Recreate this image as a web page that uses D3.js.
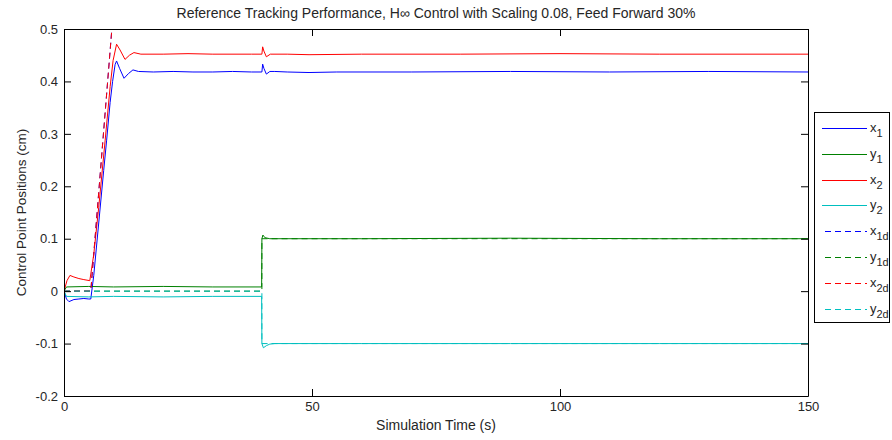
<!DOCTYPE html>
<html>
<head>
<meta charset="utf-8">
<script src="https://cdn.jsdelivr.net/npm/d3@7"></script>
<style>
	body { margin: 0; background: #fff; }
	text { font-family: "Liberation Sans", Arial, sans-serif; fill: #262626; }
</style>
</head>
<body>
<svg id="chart"></svg>
<script>
// data, [time, position]
var x1 = [[0,0],[0.5,-0.015],[1,-0.02],[2,-0.016],[3,-0.015],[4,-0.014],[5,-0.015],[5.4,-0.015],[6,0.03],[7,0.13],[8,0.23],[8.6,0.288],[9.3,0.36],[9.8,0.40],[10.3,0.432],[10.6,0.439],[11.2,0.425],[12.1,0.406],[13,0.415],[13.9,0.422],[15,0.419],[18,0.418],[22,0.419],[26,0.418],[30,0.418],[34,0.419],[37.8,0.418],[39.9,0.418],[40.05,0.433],[40.3,0.425],[40.8,0.414],[41.5,0.419],[42.5,0.419],[45,0.418],[49.4,0.417],[55,0.418],[70,0.418],[90,0.419],[110,0.418],[130,0.419],[150,0.418]]
var y1 = [[0,0],[0.5,0.008],[5,0.009],[10,0.008],[20,0.009],[30,0.008],[39.85,0.008],[39.9,0.1],[40.1,0.107],[40.5,0.102],[41.5,0.1],[60,0.1],[90,0.101],[120,0.1],[150,0.1]]
var x2 = [[0,0],[0.6,0.02],[1.2,0.03],[2,0.027],[3,0.024],[4,0.022],[5.2,0.02],[6,0.07],[7,0.16],[8.3,0.288],[9.3,0.39],[9.9,0.44],[10.6,0.471],[11.3,0.46],[12.3,0.442],[13.2,0.45],[14.1,0.455],[15.5,0.452],[20,0.452],[25,0.453],[30,0.452],[37.8,0.452],[39.9,0.452],[40.05,0.466],[40.3,0.458],[40.8,0.447],[41.6,0.452],[45,0.452],[49.4,0.451],[60,0.452],[80,0.452],[100,0.453],[120,0.452],[150,0.452]]
var y2 = [[0,0],[0.5,-0.01],[5,-0.011],[10,-0.01],[20,-0.011],[30,-0.01],[39.85,-0.01],[39.9,-0.1],[40.2,-0.108],[40.8,-0.104],[41.5,-0.101],[42.5,-0.1],[60,-0.1],[90,-0.1],[120,-0.1],[150,-0.1]]
var x1d = [[0,0],[5.4,0],[10.5,0.6],[150,0.6]]
var y1d = [[0,0],[39.9,0],[39.9,0.1],[150,0.1]]
var x2d = [[0,0],[5.4,0],[10.5,0.6],[150,0.6]]
var y2d = [[0,0],[39.9,0],[39.9,-0.1],[150,-0.1]]

var seriesNames = [["x","1"],["y","1"],["x","2"],["y","2"],["x","1d"],["y","1d"],["x","2d"],["y","2d"]]
var seriesData = [x1, y1, x2, y2, x1d, y1d, x2d, y2d]
var seriesColors = ["#0000ff", "#008000", "#ff0000", "#00bfbf", "#0000ff", "#008000", "#ff0000", "#00bfbf"]
var seriesDashed = [false, false, false, false, true, true, true, true]

var xTicks = [0, 50, 100, 150]
var xTickLabels = ["0", "50", "100", "150"]
var yTicks = [-0.2, -0.1, 0, 0.1, 0.2, 0.3, 0.4, 0.5]
var yTickLabels = ["-0.2", "-0.1", "0", "0.1", "0.2", "0.3", "0.4", "0.5"]

var width = 892
var height = 440
var margin = ({top: 29, right: 84, bottom: 44, left: 64})

var svg = d3.select("#chart")
	.attr("width", width)
	.attr("height", height)

var x = d3.scaleLinear()
	.domain([0, 150])
	.range([margin.left, width - margin.right])

var y = d3.scaleLinear()
	.domain([-0.2, 0.5])
	.range([height - margin.bottom, margin.top])

svg.append("defs").append("clipPath")
	.attr("id", "plotclip")
	.append("rect")
	.attr("x", x(0))
	.attr("y", y(0.5))
	.attr("width", x(150) - x(0))
	.attr("height", y(-0.2) - y(0.5))

var lineFunction = d3.line()
	.x(d => x(d[0]))
	.y(d => y(d[1]))

var plot = svg.append("g").attr("clip-path", "url(#plotclip)")

seriesData.forEach((data, i) => {
	plot.append("path")
		.attr("fill", "none")
		.attr("stroke", seriesColors[i])
		.attr("stroke-width", 1)
		.attr("stroke-dasharray", seriesDashed[i] ? "6,4" : null)
		.attr("d", lineFunction(data))
})

// axes, ticks point inward like matlab
var xAxis = g => g
	.attr("transform", `translate(0,${y(-0.2)})`)
	.call(d3.axisBottom(x).tickValues(xTicks).tickFormat((d, i) => xTickLabels[i]).tickSizeInner(-7).tickSizeOuter(0).tickPadding(6))

var xAxisTop = g => g
	.attr("transform", `translate(0,${y(0.5)})`)
	.call(d3.axisTop(x).tickValues(xTicks).tickFormat("").tickSizeInner(-7).tickSizeOuter(0))

var yAxis = g => g
	.attr("transform", `translate(${x(0)},0)`)
	.call(d3.axisLeft(y).tickValues(yTicks).tickFormat((d, i) => yTickLabels[i]).tickSizeInner(-7).tickSizeOuter(0).tickPadding(6))

var yAxisRight = g => g
	.attr("transform", `translate(${x(150)},0)`)
	.call(d3.axisRight(y).tickValues(yTicks).tickFormat("").tickSizeInner(-7).tickSizeOuter(0))

;[xAxis, xAxisTop, yAxis, yAxisRight].forEach(a => {
	var g = svg.append("g").call(a)
	g.selectAll("path, line").attr("stroke", "#000")
	g.selectAll("text").attr("font-size", 13).attr("font-family", "Liberation Sans, Arial, sans-serif").attr("fill", "#262626")
})

svg.append("text")
	.attr("x", (x(0) + x(150)) / 2)
	.attr("y", 18)
	.attr("text-anchor", "middle")
	.attr("font-size", 14)
	.text("Reference Tracking Performance, H\u221e Control with Scaling 0.08, Feed Forward 30%")

svg.append("text")
	.attr("x", (x(0) + x(150)) / 2)
	.attr("y", 430)
	.attr("text-anchor", "middle")
	.attr("font-size", 14)
	.text("Simulation Time (s)")

svg.append("text")
	.attr("transform", `translate(26,${(y(0.5) + y(-0.2)) / 2}) rotate(-90)`)
	.attr("text-anchor", "middle")
	.attr("font-size", 13.5)
	.text("Control Point Positions (cm)")

// legend
var legend = svg.append("g")

legend.append("rect")
	.attr("x", 814.5)
	.attr("y", 112.5)
	.attr("width", 75)
	.attr("height", 210)
	.attr("fill", "#fff")
	.attr("stroke", "#000")

seriesNames.forEach((n, i) => {
	var ly = Math.round(128 + i * 25.8) + 0.5
	legend.append("line")
		.attr("x1", seriesDashed[i] ? 825 : 822)
		.attr("x2", 867)
		.attr("y1", ly)
		.attr("y2", ly)
		.attr("stroke", seriesColors[i])
		.attr("stroke-dasharray", seriesDashed[i] ? "6,4" : null)
	var t = legend.append("text")
		.attr("x", 870)
		.attr("y", ly + 3)
		.attr("font-size", 13)
	t.append("tspan").text(n[0])
	t.append("tspan").attr("dy", 5).attr("font-size", 11).text(n[1])
})
</script>
</body>
</html>
